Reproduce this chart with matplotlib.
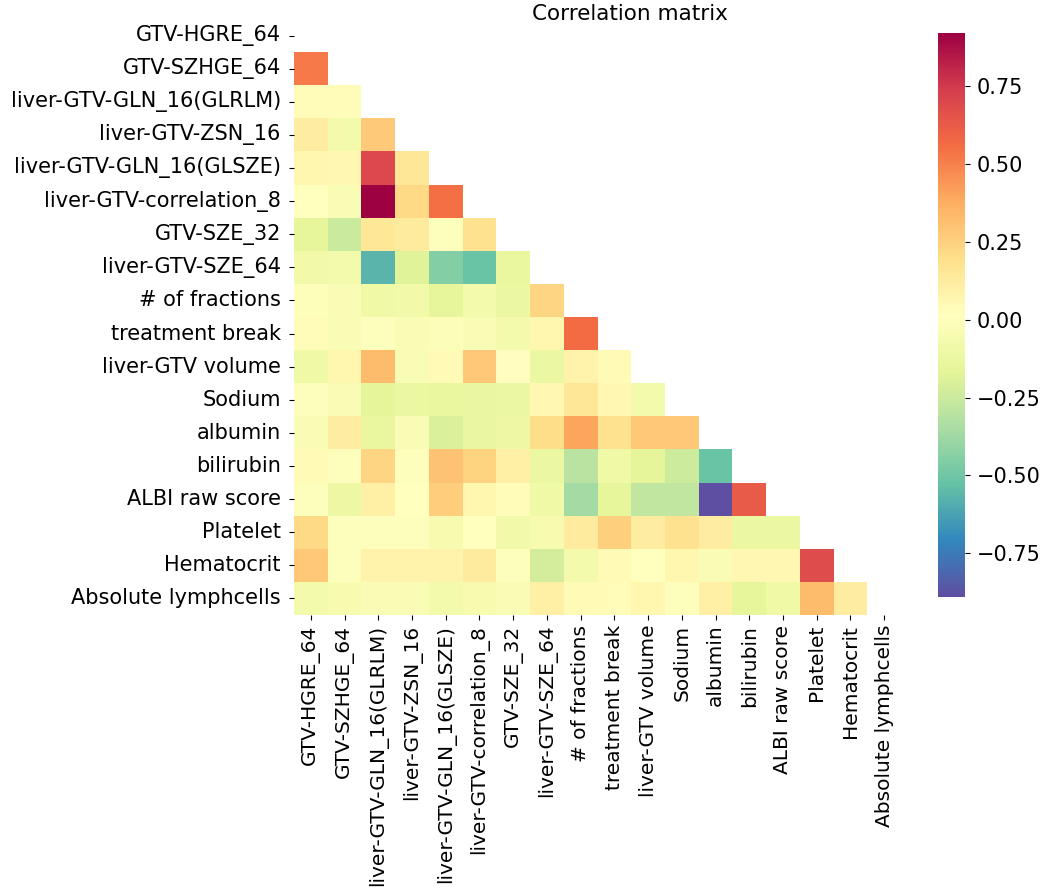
import numpy as np
import pandas as pd
import seaborn as sns
from matplotlib import pyplot as plt

labels = ['GTV-HGRE_64', 'GTV-SZHGE_64', 'liver-GTV-GLN_16(GLRLM)',
          'liver-GTV-ZSN_16', 'liver-GTV-GLN_16(GLSZE)',
          'liver-GTV-correlation_8', 'GTV-SZE_32', 'liver-GTV-SZE_64',
          '# of fractions', 'treatment break', 'liver-GTV volume', 'Sodium',
          'albumin', 'bilirubin', 'ALBI raw score', 'Platelet', 'Hematocrit',
          'Absolute lymphcells']

# Lower triangle of the correlation matrix (row i, cols 0..i-1).
lower = [
    [],
    [0.52],
    [0.03, 0.03],
    [0.12, -0.07, 0.27],
    [0.07, 0.06, 0.70, 0.15],
    [0.01, -0.04, 0.92, 0.22, 0.55],
    [-0.15, -0.25, 0.15, 0.13, 0.00, 0.18],
    [-0.08, -0.07, -0.57, -0.18, -0.45, -0.52, -0.14],
    [-0.01, -0.03, -0.10, -0.08, -0.15, -0.07, -0.12, 0.23],
    [0.03, -0.03, 0.00, -0.04, -0.02, -0.03, -0.07, 0.07, 0.56],
    [-0.10, 0.07, 0.33, -0.03, 0.05, 0.28, 0.02, -0.12, 0.08, 0.05],
    [0.00, -0.03, -0.16, -0.12, -0.14, -0.13, -0.12, 0.06, 0.15, 0.06, -0.07],
    [-0.04, 0.12, -0.14, -0.04, -0.20, -0.13, -0.11, 0.20, 0.40, 0.18, 0.28, 0.28],
    [0.05, 0.00, 0.23, 0.00, 0.30, 0.24, 0.10, -0.12, -0.30, -0.10, -0.16, -0.24, -0.52],
    [0.00, -0.11, 0.10, 0.01, 0.26, 0.07, 0.03, -0.10, -0.36, -0.15, -0.28, -0.28, -0.89, 0.63],
    [0.22, 0.00, 0.00, 0.00, -0.05, 0.01, -0.08, -0.05, 0.13, 0.25, 0.12, 0.18, 0.12, -0.12, -0.12],
    [0.28, 0.00, 0.08, 0.08, 0.08, 0.13, 0.00, -0.22, -0.07, 0.05, 0.01, 0.07, -0.04, 0.06, 0.06, 0.68],
    [-0.07, -0.05, -0.03, -0.03, -0.07, -0.05, -0.03, 0.10, 0.05, 0.03, 0.07, 0.00, 0.10, -0.15, -0.10, 0.33, 0.12],
]

n = len(labels)
corr = np.eye(n)
for i, row in enumerate(lower):
    for j, v in enumerate(row):
        corr[i, j] = v
        corr[j, i] = v
df = pd.DataFrame(corr, index=labels, columns=labels)
mask = np.triu(np.ones_like(corr, dtype=bool))

plt.rcParams['font.family'] = ['DejaVu Sans']
fig = plt.figure(figsize=(10.5, 8.91), dpi=100)
ax = fig.add_axes([294 / 1050, 1 - 615 / 891, 607 / 1050, 596 / 891])
cax = fig.add_axes([938 / 1050, 1 - 597 / 891, 27 / 1050, 564 / 891])

sns.heatmap(df, mask=mask, cmap='Spectral_r', ax=ax, cbar_ax=cax)
fig.text(630 / 1050, 1 - 14 / 891, 'Correlation matrix', fontsize=15.5,
         ha='center', va='center')
ax.tick_params(axis='y', labelsize=15, pad=6)
ax.tick_params(axis='x', labelsize=14.5)
cax.tick_params(labelsize=15, pad=5)

fig.savefig('out.png', dpi=100)
